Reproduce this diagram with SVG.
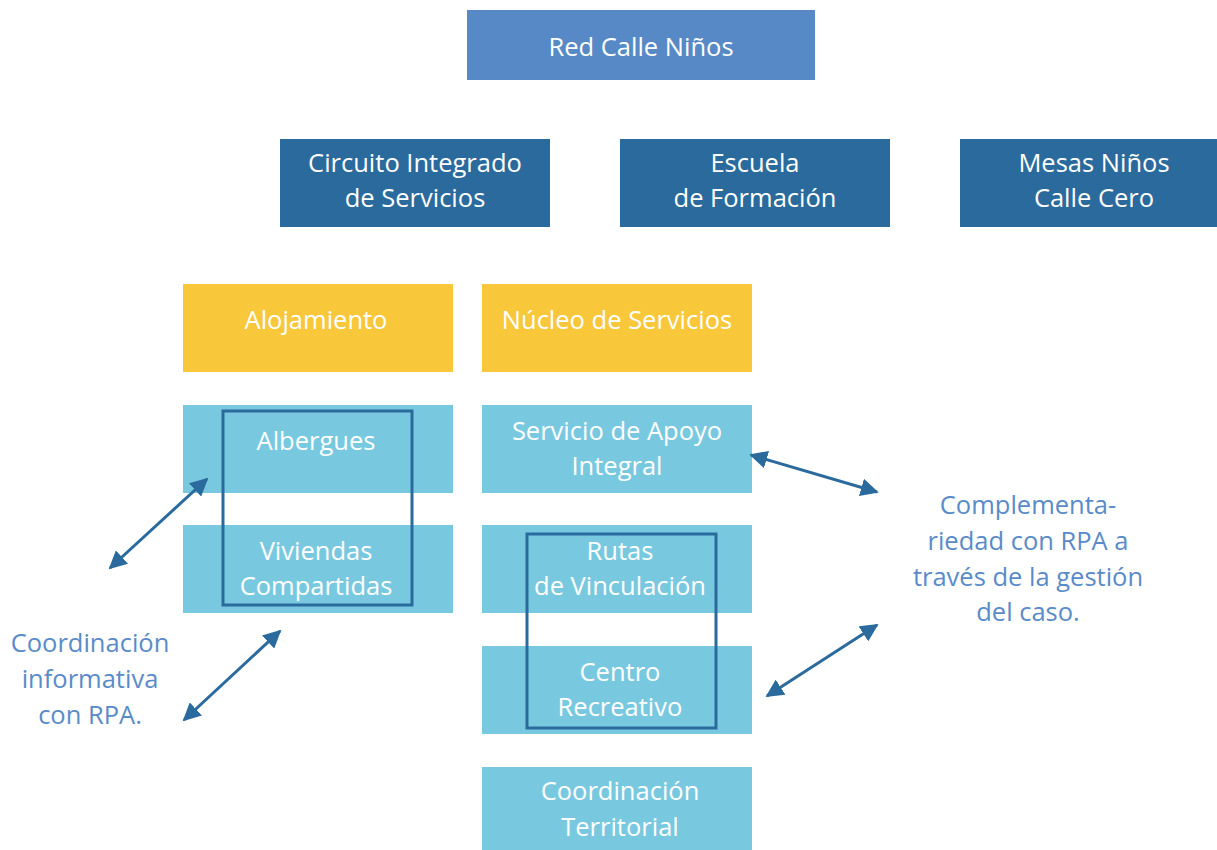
<svg xmlns="http://www.w3.org/2000/svg" width="1217" height="850" viewBox="0 0 1217 850">
<style>
.t{font-family:"Open Sans","Noto Sans",sans-serif;font-size:25.5px;fill:#ffffff;text-anchor:middle}
.l{font-family:"Open Sans","Noto Sans",sans-serif;font-size:25.5px;fill:#5A8BC9;text-anchor:middle}
.top{fill:#5689C6}
.dk{fill:#2A6A9C}
.yl{fill:#F9C73A}
.lb{fill:#78C9E0}
.ol{fill:none;stroke:#2A6A9C;stroke-width:3}
.ar{stroke:#2A6A9C;stroke-width:3;fill:none;marker-start:url(#ah);marker-end:url(#ah)}
</style>
<defs>
<marker id="ah" viewBox="0 0 10 10" refX="9" refY="5" markerWidth="6" markerHeight="6" markerUnits="strokeWidth" orient="auto-start-reverse">
<path d="M0,0 L10,5 L0,10 z" fill="#2A6A9C"/>
</marker>
</defs>
<rect width="1217" height="850" fill="#ffffff"/>
<g id="red-calle"><rect class="top" x="467" y="10" width="348" height="70"/><text class="t" x="641" y="56">Red Calle Niños</text></g>
<g id="circuito"><rect class="dk" x="280" y="139" width="270" height="88"/><text class="t" x="415" y="172">Circuito Integrado</text><text class="t" x="415" y="207">de Servicios</text></g>
<g id="escuela"><rect class="dk" x="620" y="139" width="270" height="88"/><text class="t" x="755" y="172">Escuela</text><text class="t" x="755" y="207">de Formación</text></g>
<g id="mesas"><rect class="dk" x="960" y="139" width="270" height="88"/><text class="t" x="1094" y="172">Mesas Niños</text><text class="t" x="1094" y="207">Calle Cero</text></g>
<g id="alojamiento"><rect class="yl" x="183" y="284" width="270" height="88"/><text class="t" x="316" y="329">Alojamiento</text></g>
<g id="nucleo"><rect class="yl" x="482" y="284" width="270" height="88"/><text class="t" x="617" y="329">Núcleo de Servicios</text></g>
<g id="albergues"><rect class="lb" x="183" y="405" width="270" height="88"/><text class="t" x="316" y="450">Albergues</text></g>
<g id="viviendas"><rect class="lb" x="183" y="525" width="270" height="88"/><text class="t" x="316" y="560">Viviendas</text><text class="t" x="316" y="595">Compartidas</text></g>
<g id="servicio-apoyo"><rect class="lb" x="482" y="405" width="270" height="88"/><text class="t" x="617" y="440">Servicio de Apoyo</text><text class="t" x="617" y="475">Integral</text></g>
<g id="rutas"><rect class="lb" x="482" y="525" width="270" height="88"/><text class="t" x="620" y="560">Rutas</text><text class="t" x="620" y="595">de Vinculación</text></g>
<g id="centro"><rect class="lb" x="482" y="646" width="270" height="88"/><text class="t" x="620" y="681">Centro</text><text class="t" x="620" y="716">Recreativo</text></g>
<g id="coord-territorial"><rect class="lb" x="482" y="767" width="270" height="83"/><text class="t" x="620" y="800">Coordinación</text><text class="t" x="620" y="836">Territorial</text></g>
<g id="grupo-alojamiento"><rect class="ol" x="223" y="411" width="189" height="194"/></g>
<g id="grupo-rutas"><rect class="ol" x="527" y="534" width="189" height="194"/></g>
<g id="nota-coordinacion"><text class="l" x="90" y="652">Coordinación</text><text class="l" x="90" y="688">informativa</text><text class="l" x="90" y="724">con RPA.</text></g>
<g id="nota-complementariedad"><text class="l" x="1028" y="514">Complementa-</text><text class="l" x="1028" y="550">riedad con RPA a</text><text class="l" x="1028" y="586">través de la gestión</text><text class="l" x="1028" y="621">del caso.</text></g>
<g id="connectors">
<line class="ar" x1="110" y1="568" x2="207" y2="479"/>
<line class="ar" x1="184" y1="720" x2="280" y2="631"/>
<line class="ar" x1="751" y1="455" x2="877" y2="492"/>
<line class="ar" x1="767" y1="696" x2="877" y2="625"/>
</g>
</svg>
